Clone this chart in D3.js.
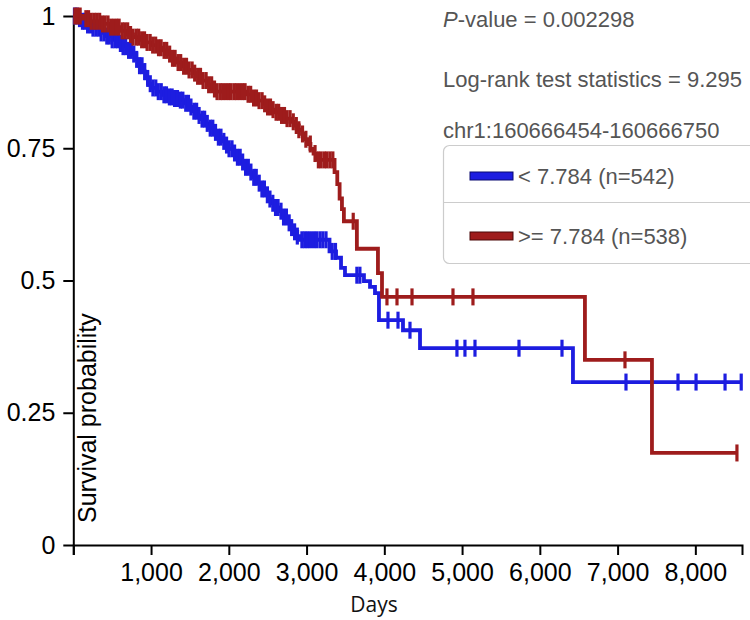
<!DOCTYPE html>
<html>
<head>
<meta charset="utf-8">
<script src="https://cdn.jsdelivr.net/npm/d3@7/dist/d3.min.js"></script>
<style>
  html, body { margin: 0; padding: 0; background: #fff; }
  svg { display: block; }
</style>
</head>
<body>
<svg id="chart" width="750" height="620"></svg>
<script>
// ---------------- DATA ----------------
const xTickValues = [0, 1000, 2000, 3000, 4000, 5000, 6000, 7000, 8000];
const yTickValues = [0, 0.25, 0.5, 0.75, 1];
const xMax = 8600;

const seriesNames = ["< 7.784 (n=542)", ">= 7.784 (n=538)"];
const statTexts = ["-value = 0.002298", "Log-rank test statistics = 9.295", "chr1:160666454-160666750"];

// Low group (blue): step times (days) and survival after each step
const lowTimes = [0, 50, 110, 176, 250, 343, 420, 500, 580, 640, 700, 768, 810, 850, 890, 925, 960, 1000,
  1070, 1150, 1230, 1300, 1370, 1430, 1490, 1550, 1600, 1650, 1700, 1758, 1800, 1848, 1900, 1951, 2000,
  2054, 2100, 2157, 2215, 2273, 2320, 2375, 2420, 2465, 2510, 2555, 2600, 2645, 2700, 2748, 2790, 2838,
  2880, 2915, 3295, 3379, 3443, 3494, 3738, 3816, 3880, 3931, 4240, 4459, 6426];
const lowSurv = [1, 0.995, 0.99, 0.983, 0.977, 0.968, 0.962, 0.955, 0.948, 0.942, 0.935, 0.928, 0.918, 0.906,
  0.895, 0.882, 0.872, 0.864, 0.857, 0.851, 0.847, 0.844, 0.841, 0.835, 0.828, 0.82, 0.812, 0.805, 0.797,
  0.788, 0.78, 0.771, 0.763, 0.756, 0.749, 0.741, 0.733, 0.724, 0.714, 0.705, 0.695, 0.684, 0.673, 0.662,
  0.654, 0.646, 0.638, 0.631, 0.62, 0.609, 0.6, 0.592, 0.584, 0.577, 0.555, 0.543, 0.524, 0.51, 0.499,
  0.488, 0.476, 0.425, 0.406, 0.372, 0.308];
const lowCensor = [15, 48, 80, 118, 150, 184, 221, 253, 290, 326, 358, 396, 431, 463, 500, 537, 569, 606,
  640, 673, 711, 746, 778, 815, 852, 884, 919, 957, 990, 1024, 1061, 1093, 1131, 1166, 1198, 1236, 1271,
  1303, 1340, 1377, 1409, 1446, 1481, 1513, 1551, 1586, 1618, 1656, 1689, 1723, 1761, 1794, 1829, 1866,
  1899, 1936, 1971, 2003, 2041, 2074, 2111, 2146, 2178, 2216, 2251, 2284, 2321, 2353, 2391, 2426, 2458,
  2496, 2529, 2566, 2601, 2633, 2671, 2704, 2741, 2776, 2808, 2846, 2881, 2940, 2976, 3011, 3049, 3090,
  3128, 3171, 3209, 3250, 3330, 3372, 3647, 3686, 4047, 4176, 4330, 4934, 5037, 5166, 5732, 6285, 7108,
  7777, 8009, 8382, 8590];

// High group (red)
const highTimes = [0, 125, 215, 343, 472, 600, 700, 768, 850, 922, 1000, 1076, 1140, 1205, 1270, 1334, 1400,
  1462, 1530, 1591, 1660, 1720, 1780, 1830, 2230, 2300, 2375, 2440, 2491, 2550, 2600, 2660, 2720, 2790,
  2850, 2900, 2941, 2980, 3010, 3050, 3090, 3125, 3360, 3395, 3425, 3455, 3480, 3647, 3918, 3970, 6580, 7442];
const highSurv = [1, 0.995, 0.99, 0.985, 0.979, 0.972, 0.965, 0.96, 0.955, 0.95, 0.945, 0.94, 0.935, 0.928,
  0.92, 0.912, 0.905, 0.898, 0.892, 0.886, 0.878, 0.87, 0.862, 0.857, 0.852, 0.845, 0.84, 0.834, 0.828,
  0.823, 0.818, 0.812, 0.806, 0.8, 0.793, 0.785, 0.777, 0.767, 0.758, 0.749, 0.74, 0.728, 0.705, 0.682,
  0.655, 0.635, 0.612, 0.56, 0.514, 0.469, 0.35, 0.174];
const highCensor = [20, 55, 88, 162, 196, 231, 268, 301, 339, 376, 409, 446, 481, 518, 556, 589, 628, 661,
  699, 736, 768, 809, 841, 879, 916, 949, 988, 1021, 1059, 1096, 1129, 1168, 1201, 1239, 1276, 1309, 1348,
  1381, 1419, 1456, 1489, 1528, 1561, 1599, 1636, 1669, 1708, 1741, 1779, 1816, 1849, 1888, 1921, 1959,
  1996, 2029, 2068, 2101, 2139, 2176, 2209, 2248, 2281, 2319, 2356, 2389, 2428, 2461, 2499, 2536, 2569,
  2608, 2641, 2679, 2716, 2749, 2788, 2829, 2868, 2901, 2948, 2991, 3048, 3109, 3152, 3188, 3229, 3262,
  3301, 3338, 3600, 4034, 4163, 4356, 4883, 5140, 7095, 8535];

const colors = ["#1d1de0", "#9e1c1c"];
const swatchStroke = ["#0a0a70", "#4a0808"];

// ---------------- CHART ----------------
const svg = d3.select("#chart");
const x = d3.scaleLinear().domain([0, xMax]).range([73.3, 742]);
const y = d3.scaleLinear().domain([0, 1]).range([545, 16]);

const fmt = d3.format(",");
const xAxis = d3.axisBottom(x).tickValues(xTickValues)
  .tickFormat(d => d === 0 ? "" : fmt(d)).tickSize(10).tickPadding(8);
const yAxis = d3.axisLeft(y).tickValues(yTickValues)
  .tickFormat(d => String(d)).tickSize(10).tickSizeOuter(0).tickPadding(8);

function styleAxis(g) {
  g.selectAll("path, line").attr("stroke", "#000").attr("stroke-width", 2);
  g.selectAll("text").attr("font-family", "Liberation Sans, Arial, sans-serif")
    .attr("font-size", 25).attr("fill", "#000");
}
svg.append("g").attr("transform", "translate(0,545)").call(xAxis).call(styleAxis);
svg.append("g").attr("transform", "translate(73.3,0)").call(yAxis).call(styleAxis);

// axis titles
svg.append("text").attr("x", 374).attr("y", 612).attr("text-anchor", "middle")
  .attr("font-family", "Open Sans, sans-serif").attr("font-size", 21).attr("fill", "#111").text("Days");
svg.append("text").attr("transform", "translate(96,523) rotate(-90)").attr("text-anchor", "start")
  .attr("font-family", "Liberation Sans, Arial, sans-serif").attr("font-size", 25).attr("fill", "#000")
  .text("Survival probability");

// KM curves
const groups = [
  { times: lowTimes, surv: lowSurv, censor: lowCensor, color: colors[0] },
  { times: highTimes, surv: highSurv, censor: highCensor, color: colors[1] }
];
const line = d3.line().x(d => x(d[0])).y(d => y(d[1])).curve(d3.curveStepAfter);
const bis = d3.bisector(d => d).right;

groups.forEach(gp => {
  const pts = gp.times.map((t, i) => [t, gp.surv[i]]);
  const end = d3.max(gp.censor);
  pts.push([end, gp.surv[gp.surv.length - 1]]);
  const g = svg.append("g");
  g.append("path").datum(pts).attr("d", line).attr("fill", "none")
    .attr("stroke", gp.color).attr("stroke-width", 3.8);
  g.selectAll("line.c").data(gp.censor).join("line")
    .attr("x1", d => x(d)).attr("x2", d => x(d))
    .attr("y1", d => y(gp.surv[Math.max(0, bis(gp.times, d) - 1)]) - 8.5)
    .attr("y2", d => y(gp.surv[Math.max(0, bis(gp.times, d) - 1)]) + 8.5)
    .attr("stroke", gp.color).attr("stroke-width", 3.2);
});

// stats text
const tf = "Liberation Sans, Arial, sans-serif";
const t1 = svg.append("text").attr("x", 443).attr("y", 27).attr("font-family", tf)
  .attr("font-size", 22).attr("fill", "#555");
t1.append("tspan").attr("font-style", "italic").text("P");
t1.append("tspan").text(statTexts[0]);
svg.append("text").attr("x", 443).attr("y", 87).attr("font-family", tf)
  .attr("font-size", 22).attr("fill", "#555").text(statTexts[1]);
svg.append("text").attr("x", 443).attr("y", 138).attr("font-family", tf)
  .attr("font-size", 22).attr("fill", "#555").text(statTexts[2]);

// legend
const lg = svg.append("g");
lg.append("rect").attr("x", 443.5).attr("y", 145.5).attr("width", 340).attr("height", 118).attr("rx", 6)
  .attr("fill", "#fff").attr("stroke", "#ccc").attr("stroke-width", 1.2);
lg.append("line").attr("x1", 444).attr("x2", 750).attr("y1", 202.5).attr("y2", 202.5)
  .attr("stroke", "#ccc").attr("stroke-width", 1.2);
seriesNames.forEach((name, i) => {
  const yy = 172 + i * 60;
  lg.append("rect").attr("x", 470).attr("y", yy).attr("width", 43).attr("height", 8)
    .attr("fill", colors[i]).attr("stroke", swatchStroke[i]).attr("stroke-width", 1);
  lg.append("text").attr("x", 518).attr("y", yy + 12).attr("font-family", tf)
    .attr("font-size", 22).attr("fill", "#555").text(name);
});
</script>
</body>
</html>
